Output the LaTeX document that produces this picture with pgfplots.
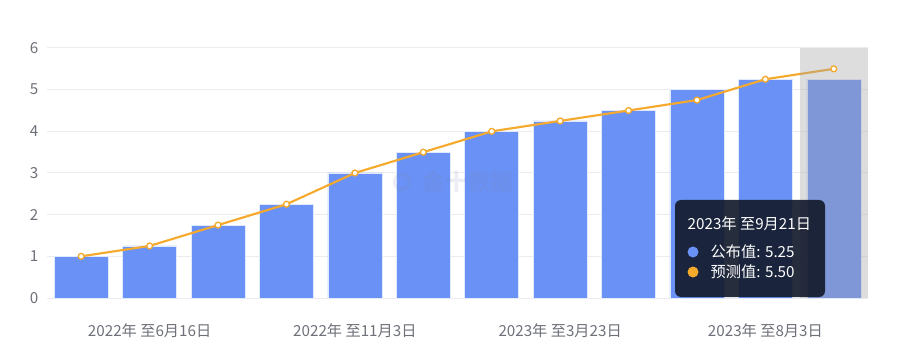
\documentclass[border=0pt]{standalone}
\usepackage{fontspec}
\setmainfont{Noto Sans CJK SC}
\usepackage{pgfplots}
\pgfplotsset{compat=1.18}
\definecolor{barblue}{RGB}{106,145,245}
\definecolor{lineor}{RGB}{245,170,45}
\definecolor{gridc}{RGB}{236,236,240}
\definecolor{tickc}{RGB}{110,112,121}
\definecolor{tipbg}{RGB}{20,27,45}
\definecolor{shadowc}{RGB}{163,163,163}
\begin{document}
\begin{tikzpicture}[x=0.75pt,y=0.75pt]
\path[use as bounding box] (0,0) rectangle (903,361);
\begin{axis}[
  at={(35.25pt,47.25pt)}, anchor=south west,
  scale only axis, width=615.75pt, height=187.5pt,
  xmin=-0.5, xmax=11.5, ymin=0, ymax=6,
  axis line style={draw=none},
  ytick={0,1,2,3,4,5,6},
  xtick={1,4,7,10},
  xticklabels={2022年 至6月16日,2022年 至11月3日,2023年 至3月23日,2023年 至8月3日},
  ymajorgrids, grid style={gridc, line width=0.75pt},
  major tick length=0pt,
  tick label style={font=\fontsize{11.4}{13}\selectfont, text=tickc},
  /pgf/number format/assume math mode=true,
  xticklabel style={yshift=-16pt},
  yticklabel style={xshift=-3pt},
  clip=false,
]
\addplot[ybar, bar width=0.79, fill=barblue, draw=white!80!barblue, line width=0.4pt] coordinates {
 (0,1) (1,1.25) (2,1.75) (3,2.25) (4,3) (5,3.5) (6,4) (7,4.25) (8,4.5) (9,5) (10,5.25) (11,5.25)};
\addplot[lineor, line width=1.6pt, mark=*, mark size=2.2pt, mark options={fill=white, draw=lineor, line width=1pt}] coordinates {
 (0,1) (1,1.25) (2,1.75) (3,2.25) (4,3) (5,3.5) (6,4) (7,4.25) (8,4.5) (9,4.75) (10,5.25) (11,5.5)};
\fill[shadowc, opacity=0.37] (axis cs:10.5,0) rectangle (axis cs:11.5,6);
\end{axis}
% watermark
\node[text=barblue!40!gray, opacity=0.14, font=\fontsize{17}{19}\selectfont\bfseries, anchor=west] at (418,179) {金十数据};
\draw[barblue!40!gray, opacity=0.14, line width=2.5pt] (402,179) circle (7.5);
% tooltip
\fill[tipbg, opacity=0.92, rounded corners=4.5pt] (675,64) rectangle (825,161);
\node[anchor=west, text=white, font=\fontsize{11.4}{13}\selectfont] at (683,137) {2023年 至9月21日};
\fill[barblue] (693,109) circle (5.5);
\fill[lineor] (693,89) circle (5.5);
\node[anchor=west, text=white, font=\fontsize{11.4}{13}\selectfont] at (706,109) {公布值: 5.25};
\node[anchor=west, text=white, font=\fontsize{11.4}{13}\selectfont] at (706,89) {预测值: 5.50};
\end{tikzpicture}
\end{document}
